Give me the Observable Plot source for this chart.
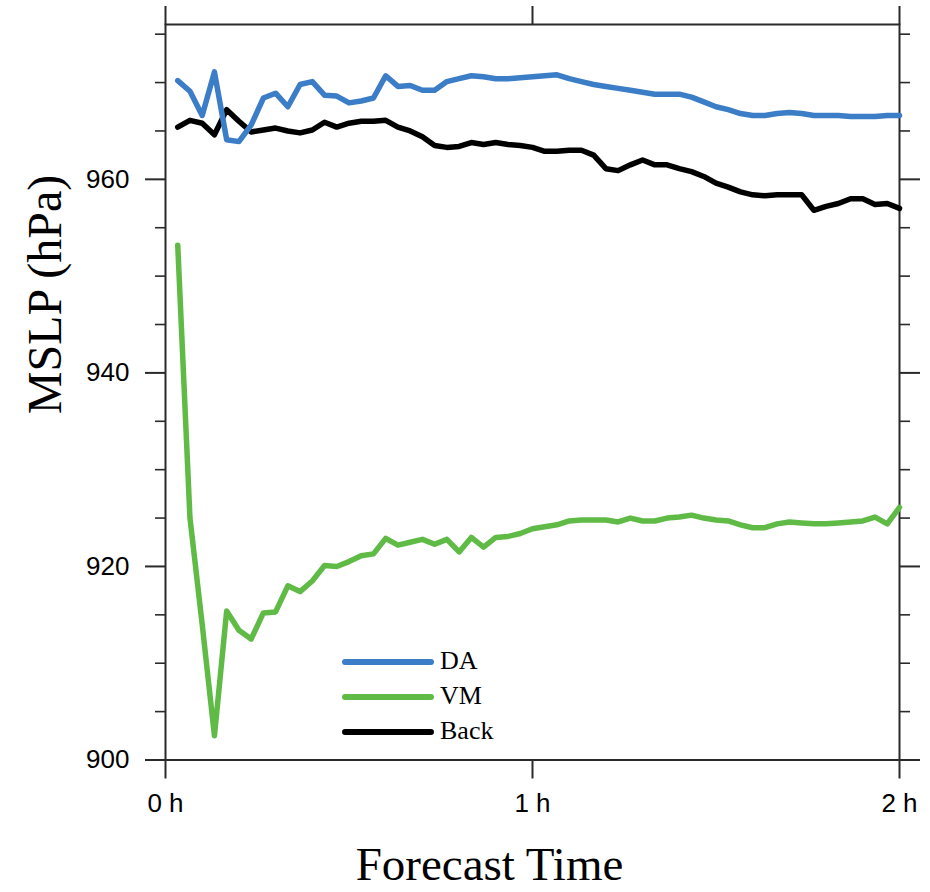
<!DOCTYPE html>
<html>
<head>
<meta charset="utf-8">
<script src="https://cdn.jsdelivr.net/npm/d3@7"></script>
<script src="https://cdn.jsdelivr.net/npm/@observablehq/plot@0.6"></script>
<style>
  html, body { margin: 0; padding: 0; background: #fff; }
  #wrap { position: relative; width: 930px; height: 892px; }
  #legend { position: absolute; left: 0; top: 0; }
  .lg-line { position: absolute; height: 6px; border-radius: 3px; }
  .lg-text { position: absolute; font-family: "Liberation Serif", "Times New Roman", serif; font-size: 26px; line-height: 26px; color: #000; }
</style>
</head>
<body>
<div id="wrap"><div id="chart"></div><div id="legend"></div></div>
<script>
// Forecast time in minutes (2-minute output)
const minutes = [2,4,6,8,10,12,14,16,18,20,22,24,26,28,30,32,34,36,38,40,
                 42,44,46,48,50,52,54,56,58,60,62,64,66,68,70,72,74,76,78,80,
                 82,84,86,88,90,92,94,96,98,100,102,104,106,108,110,112,114,116,118,120];

const daValues = [970.2,969.1,966.6,971.1,964.1,963.9,965.6,968.4,968.9,967.5,
                  969.8,970.1,968.7,968.6,967.9,968.1,968.4,970.7,969.6,969.7,
                  969.2,969.2,970.1,970.4,970.7,970.6,970.4,970.4,970.5,970.6,
                  970.7,970.8,970.4,970.1,969.8,969.6,969.4,969.2,969.0,968.8,
                  968.8,968.8,968.5,968.0,967.5,967.2,966.8,966.6,966.6,966.8,
                  966.9,966.8,966.6,966.6,966.6,966.5,966.5,966.5,966.6,966.6];

const vmValues = [953.2,925.0,914.0,902.5,915.4,913.4,912.5,915.2,915.3,918.0,
                  917.4,918.5,920.1,920.0,920.5,921.1,921.3,922.9,922.2,922.5,
                  922.8,922.3,922.8,921.5,923.0,922.0,923.0,923.1,923.4,923.9,
                  924.1,924.3,924.7,924.8,924.8,924.8,924.6,925.0,924.7,924.7,
                  925.0,925.1,925.3,925.0,924.8,924.7,924.3,924.0,924.0,924.4,
                  924.6,924.5,924.4,924.4,924.5,924.6,924.7,925.1,924.4,926.1];

const backValues = [965.4,966.1,965.8,964.6,967.2,966.0,964.9,965.1,965.3,965.0,
                    964.8,965.1,965.9,965.4,965.8,966.0,966.0,966.1,965.4,965.0,
                    964.4,963.5,963.3,963.4,963.8,963.6,963.8,963.6,963.5,963.3,
                    962.9,962.9,963.0,963.0,962.5,961.1,960.9,961.5,962.0,961.5,
                    961.5,961.1,960.8,960.3,959.6,959.2,958.7,958.4,958.3,958.4,
                    958.4,958.4,956.8,957.2,957.5,958.0,958.0,957.4,957.5,957.0];

const seriesNames = ["DA", "VM", "Back"];
const seriesColors = ["#3b7dc7", "#5fbb46", "#000000"];

const yMajorTicks = [900, 920, 940, 960];
const yMinorTicks = [905, 910, 915, 925, 930, 935, 945, 950, 955, 965, 970, 975];
const xTicks = [0, 1, 2];
const xTickLabels = ["0 h", "1 h", "2 h"];
const yDomain = [900, 976];
const xDomain = [0, 2];

const seriesValues = [daValues, vmValues, backValues];
const rows = (k) => minutes.map((m, i) => ({t: m / 60, v: seriesValues[k][i], s: seriesNames[k]}));

const sans = "'Liberation Sans', Arial, Helvetica, sans-serif";
const serif = "'Liberation Serif', 'Times New Roman', serif";
const axisStroke = "#2a2a2a";

const chart = Plot.plot({
  width: 930,
  height: 892,
  marginLeft: 165,
  marginRight: 31,
  marginTop: 24,
  marginBottom: 132.5,
  style: {background: "#fff", fontFamily: sans, color: "#000"},
  x: {domain: xDomain, axis: null},
  y: {domain: yDomain, axis: null},
  color: {domain: seriesNames, range: seriesColors},
  marks: [
    // left axis
    Plot.axisY(yMajorTicks, {anchor: "left", tickSize: 20, tickPadding: 16, fontSize: 26, fontFamily: sans, label: null, stroke: axisStroke, strokeWidth: 2, fill: "#000"}),
    Plot.axisY(yMinorTicks, {anchor: "left", tickSize: 10, tickFormat: () => "", label: null, stroke: axisStroke, strokeWidth: 1.6}),
    // right axis
    Plot.axisY(yMajorTicks, {anchor: "right", tickSize: 20, tickFormat: () => "", label: null, stroke: axisStroke, strokeWidth: 2}),
    Plot.axisY(yMinorTicks, {anchor: "right", tickSize: 10, tickFormat: () => "", label: null, stroke: axisStroke, strokeWidth: 1.6}),
    // bottom axis
    Plot.axisX(xTicks, {anchor: "bottom", tickSize: 19, tickPadding: 15, fontSize: 26, fontFamily: sans,
      tickFormat: (d) => xTickLabels[xTicks.indexOf(d)], label: null, stroke: axisStroke, strokeWidth: 2, fill: "#000"}),
    // top axis
    Plot.axisX(xTicks, {anchor: "top", tickSize: 19, tickFormat: () => "", label: null, stroke: axisStroke, strokeWidth: 2}),
    Plot.frame({stroke: axisStroke, strokeWidth: 2}),
    // series
    Plot.line(rows(2), {x: "t", y: "v", stroke: "s", strokeWidth: 5.5, strokeLinejoin: "round", strokeLinecap: "round"}),
    Plot.line(rows(0), {x: "t", y: "v", stroke: "s", strokeWidth: 5.5, strokeLinejoin: "round", strokeLinecap: "round"}),
    Plot.line(rows(1), {x: "t", y: "v", stroke: "s", strokeWidth: 5.5, strokeLinejoin: "round", strokeLinecap: "round"}),
    // axis titles
    Plot.text(["MSLP (hPa)"], {text: (d) => d, frameAnchor: "left", rotate: -90, dx: -120, dy: 22,
      fontSize: 48, fontFamily: serif, fill: "#000"}),
    Plot.text(["Forecast Time"], {text: (d) => d, frameAnchor: "bottom", lineAnchor: "bottom", dx: -43, dy: 120,
      fontSize: 47, fontFamily: serif, fill: "#000"})
  ]
});
document.getElementById("chart").appendChild(chart);

// legend inside the plot area
const legend = document.getElementById("legend");
seriesNames.forEach((name, i) => {
  const cy = 662 + i * 35;
  const line = document.createElement("div");
  line.className = "lg-line";
  line.style.left = "342px";
  line.style.width = "92px";
  line.style.top = (cy - 3) + "px";
  line.style.background = seriesColors[i];
  legend.appendChild(line);
  const txt = document.createElement("div");
  txt.className = "lg-text";
  txt.style.left = "440px";
  txt.style.top = (cy - 14) + "px";
  txt.textContent = name;
  legend.appendChild(txt);
});
</script>
</body>
</html>
